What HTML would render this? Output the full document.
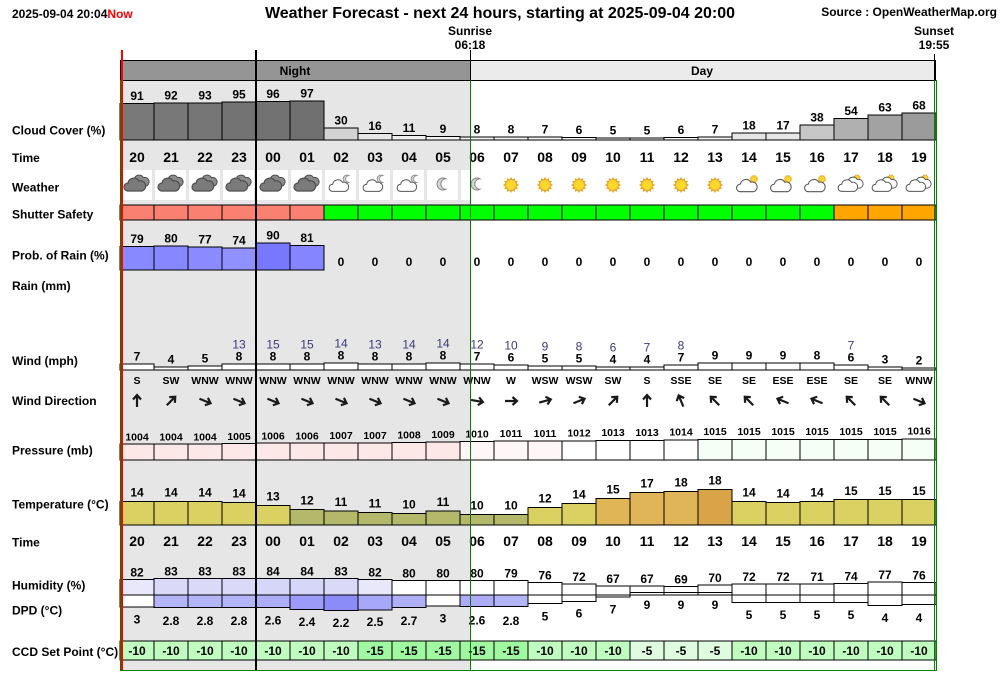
<!DOCTYPE html>
<html><head><meta charset="utf-8">
<style>
html,body{margin:0;padding:0;background:#fff;}
svg{display:block;}
text{font-family:"Liberation Sans",Arial,sans-serif;}
.b{font-weight:bold;font-size:12px;}
.lbl{font-weight:bold;font-size:12px;}
.t{font-weight:bold;font-size:14px;text-anchor:middle;}
.n{font-weight:bold;font-size:12px;text-anchor:middle;}
.g{font-size:12px;text-anchor:middle;fill:#3a3a78;}
.d{font-weight:bold;font-size:10.5px;text-anchor:middle;}
.p{font-weight:bold;font-size:10.5px;text-anchor:middle;}
</style></head><body>
<svg width="1000" height="680" viewBox="0 0 1000 680" xmlns="http://www.w3.org/2000/svg" xmlns:xlink="http://www.w3.org/1999/xlink">
<defs>
<path id="cl" d="M-7,6 A4,4 0 0 1 -7,-2 A6,6 0 0 1 4,-4 A5,5 0 0 1 7,6 Z"/>
<g id="sun"><polygon points="8,0 5.6,1.5 6.93,4 4.1,4.1 4,6.93 1.5,5.6 0,8 -1.5,5.6 -4,6.93 -4.1,4.1 -6.93,4 -5.6,1.5 -8,0 -5.6,-1.5 -6.93,-4 -4.1,-4.1 -4,-6.93 -1.5,-5.6 0,-8 1.5,-5.6 4,-6.93 4.1,-4.1 6.93,-4 5.6,-1.5" fill="#eba42c"/><circle r="5.3" fill="#fbd92b" stroke="#e9a630" stroke-width="0.6"/></g>
<path id="moonp" d="M3,-5.2 A6,6 0 1 0 3,5.2 A5,5 0 0 1 3,-5.2 Z"/>
<g id="ov"><use href="#cl" transform="translate(3,-3) scale(0.85)" fill="#8c8c8c" stroke="#4e4e4e" stroke-width="1.2"/><use href="#cl" transform="translate(-2,1)" fill="#7b7b7b" stroke="#4e4e4e" stroke-width="1.2"/></g>
<g id="cm"><use href="#moonp" transform="translate(6,-5) scale(0.65)" fill="#d4d4d4" stroke="#888" stroke-width="1.2"/><use href="#cl" transform="translate(-2,2) scale(0.9)" fill="#fff" stroke="#555" stroke-width="1.1"/></g>
<g id="mo"><use href="#moonp" fill="#d4d4d4" stroke="#888" stroke-width="1"/></g>
<g id="cs"><use href="#sun" transform="translate(5,-5) scale(0.55)"/><use href="#cl" transform="translate(-2,2) scale(0.95)" fill="#fff" stroke="#555" stroke-width="1.1"/></g>
<g id="dcs"><use href="#sun" transform="translate(6,-6) scale(0.5)"/><use href="#cl" transform="translate(3,-1) scale(0.85)" fill="#fff" stroke="#555" stroke-width="1.1"/><use href="#cl" transform="translate(-3,2) scale(0.9)" fill="#fff" stroke="#555" stroke-width="1.1"/></g>
<path id="ar" d="M0,6 V-5 M-4,-1.5 L0,-6 L4,-1.5" fill="none" stroke="#1a1a1a" stroke-width="2.2"/>
</defs>

<rect x="0" y="0" width="1000" height="680" fill="#fff"/>

<!-- header -->
<text x="12" y="18" class="b">2025-09-04 20:04<tspan fill="#ff0000">Now</tspan></text>
<text x="500" y="18" style="font-weight:bold;font-size:16px" text-anchor="middle">Weather Forecast - next 24 hours, starting at 2025-09-04 20:00</text>
<text x="997" y="16" class="b" text-anchor="end">Source : OpenWeatherMap.org</text>
<text x="470" y="35" class="n">Sunrise</text><text x="470" y="49" class="n">06:18</text>
<text x="934" y="35" class="n">Sunset</text><text x="934" y="49" class="n">19:55</text>

<!-- night background -->
<rect x="120" y="80" width="350" height="590" fill="#e6e6e6"/>

<!-- band -->
<g shape-rendering="crispEdges">
<rect x="120" y="60" width="350" height="20" fill="#959595"/>
<rect x="470" y="60" width="464" height="20" fill="#ebebeb"/>
<rect x="934" y="60" width="2" height="20" fill="#959595"/>
<rect x="120.5" y="60.5" width="815" height="20" fill="none" stroke="#000"/>
</g>
<text x="295" y="75" class="n">Night</text>
<text x="702" y="75" class="n">Day</text>

<!-- left labels -->
<g class="lbl">
<text x="12" y="134.5">Cloud Cover (%)</text>
<text x="12" y="162">Time</text>
<text x="12" y="191.5">Weather</text>
<text x="12" y="218.5">Shutter Safety</text>
<text x="12" y="259.5">Prob. of Rain (%)</text>
<text x="12" y="290">Rain (mm)</text>
<text x="12" y="365">Wind (mph)</text>
<text x="12" y="405">Wind Direction</text>
<text x="12" y="454.5">Pressure (mb)</text>
<text x="12" y="508.5">Temperature (°C)</text>
<text x="12" y="546.5">Time</text>
<text x="12" y="589.5">Humidity (%)</text>
<text x="12" y="614.5">DPD (°C)</text>
<text x="12" y="656">CCD Set Point (°C)</text>
</g>

<!-- cloud cover -->
<g stroke="#000" stroke-width="1" shape-rendering="crispEdges">
<rect x="120" y="103.6" width="34" height="36.4" fill="#797979"/>
<rect x="154" y="103.2" width="34" height="36.8" fill="#787878"/>
<rect x="188" y="102.8" width="34" height="37.2" fill="#767676"/>
<rect x="222" y="102" width="34" height="38" fill="#737373"/>
<rect x="256" y="101.6" width="34" height="38.4" fill="#727272"/>
<rect x="290" y="101.2" width="34" height="38.8" fill="#707070"/>
<rect x="324" y="128" width="34" height="12" fill="#d3d3d3"/>
<rect x="358" y="133.6" width="34" height="6.4" fill="#e7e7e7"/>
<rect x="392" y="135.6" width="34" height="4.4" fill="#efefef"/>
<rect x="426" y="136.4" width="34" height="3.6" fill="#f2f2f2"/>
<rect x="460" y="136.8" width="34" height="3.2" fill="#f3f3f3"/>
<rect x="494" y="136.8" width="34" height="3.2" fill="#f3f3f3"/>
<rect x="528" y="137.2" width="34" height="2.8" fill="#f5f5f5"/>
<rect x="562" y="137.6" width="34" height="2.4" fill="#f6f6f6"/>
<rect x="596" y="138" width="34" height="2" fill="#f8f8f8"/>
<rect x="630" y="138" width="34" height="2" fill="#f8f8f8"/>
<rect x="664" y="137.6" width="34" height="2.4" fill="#f6f6f6"/>
<rect x="698" y="137.2" width="34" height="2.8" fill="#f5f5f5"/>
<rect x="732" y="132.8" width="34" height="7.2" fill="#e5e5e5"/>
<rect x="766" y="133.2" width="34" height="6.8" fill="#e6e6e6"/>
<rect x="800" y="124.8" width="34" height="15.2" fill="#c7c7c7"/>
<rect x="834" y="118.4" width="34" height="21.6" fill="#b0b0b0"/>
<rect x="868" y="114.8" width="34" height="25.2" fill="#a2a2a2"/>
<rect x="902" y="112.8" width="34" height="27.2" fill="#9b9b9b"/>
</g>
<g class="n">
<text x="137" y="100.1">91</text><text x="171" y="99.7">92</text><text x="205" y="99.3">93</text><text x="239" y="98.5">95</text>
<text x="273" y="98.1">96</text><text x="307" y="97.7">97</text><text x="341" y="124.5">30</text><text x="375" y="130.1">16</text>
<text x="409" y="132.1">11</text><text x="443" y="132.9">9</text><text x="477" y="133.3">8</text><text x="511" y="133.3">8</text>
<text x="545" y="133.7">7</text><text x="579" y="134.1">6</text><text x="613" y="134.5">5</text><text x="647" y="134.5">5</text>
<text x="681" y="134.1">6</text><text x="715" y="133.7">7</text><text x="749" y="129.3">18</text><text x="783" y="129.7">17</text>
<text x="817" y="121.3">38</text><text x="851" y="114.9">54</text><text x="885" y="111.3">63</text><text x="919" y="109.3">68</text>
</g>

<!-- time row 1 -->
<g class="t">
<text x="137" y="162">20</text><text x="171" y="162">21</text><text x="205" y="162">22</text><text x="239" y="162">23</text>
<text x="273" y="162">00</text><text x="307" y="162">01</text><text x="341" y="162">02</text><text x="375" y="162">03</text>
<text x="409" y="162">04</text><text x="443" y="162">05</text><text x="477" y="162">06</text><text x="511" y="162">07</text>
<text x="545" y="162">08</text><text x="579" y="162">09</text><text x="613" y="162">10</text><text x="647" y="162">11</text>
<text x="681" y="162">12</text><text x="715" y="162">13</text><text x="749" y="162">14</text><text x="783" y="162">15</text>
<text x="817" y="162">16</text><text x="851" y="162">17</text><text x="885" y="162">18</text><text x="919" y="162">19</text>
</g>

<!-- weather cells -->
<g fill="#fff" shape-rendering="crispEdges">
<rect x="121" y="170" width="31" height="30"/><rect x="155" y="170" width="31" height="30"/><rect x="189" y="170" width="31" height="30"/>
<rect x="223" y="170" width="31" height="30"/><rect x="257" y="170" width="31" height="30"/><rect x="291" y="170" width="31" height="30"/>
<rect x="325" y="170" width="31" height="30"/><rect x="359" y="170" width="31" height="30"/><rect x="393" y="170" width="31" height="30"/>
<rect x="427" y="170" width="31" height="30"/><rect x="461" y="170" width="31" height="30"/>
</g>
<use href="#ov" x="137" y="184"/><use href="#ov" x="171" y="184"/><use href="#ov" x="205" y="184"/>
<use href="#ov" x="239" y="184"/><use href="#ov" x="273" y="184"/><use href="#ov" x="307" y="184"/>
<use href="#cm" x="341" y="184"/><use href="#cm" x="375" y="184"/><use href="#cm" x="409" y="184"/>
<use href="#mo" x="443" y="184"/><use href="#mo" x="477" y="184"/>
<use href="#sun" x="511" y="185"/><use href="#sun" x="545" y="185"/><use href="#sun" x="579" y="185"/>
<use href="#sun" x="613" y="185"/><use href="#sun" x="647" y="185"/><use href="#sun" x="681" y="185"/><use href="#sun" x="715" y="185"/>
<use href="#cs" x="749" y="184"/><use href="#cs" x="783" y="184"/><use href="#cs" x="817" y="184"/>
<use href="#dcs" x="851" y="184"/><use href="#dcs" x="885" y="184"/><use href="#dcs" x="919" y="184"/>

<!-- shutter safety -->
<g stroke="#000" shape-rendering="crispEdges">
<rect x="120" y="205" width="34" height="15" fill="#fa8072"/><rect x="154" y="205" width="34" height="15" fill="#fa8072"/>
<rect x="188" y="205" width="34" height="15" fill="#fa8072"/><rect x="222" y="205" width="34" height="15" fill="#fa8072"/>
<rect x="256" y="205" width="34" height="15" fill="#fa8072"/><rect x="290" y="205" width="34" height="15" fill="#fa8072"/>
<rect x="324" y="205" width="34" height="15" fill="#00ff00"/><rect x="358" y="205" width="34" height="15" fill="#00ff00"/>
<rect x="392" y="205" width="34" height="15" fill="#00ff00"/><rect x="426" y="205" width="34" height="15" fill="#00ff00"/>
<rect x="460" y="205" width="34" height="15" fill="#00ff00"/><rect x="494" y="205" width="34" height="15" fill="#00ff00"/>
<rect x="528" y="205" width="34" height="15" fill="#00ff00"/><rect x="562" y="205" width="34" height="15" fill="#00ff00"/>
<rect x="596" y="205" width="34" height="15" fill="#00ff00"/><rect x="630" y="205" width="34" height="15" fill="#00ff00"/>
<rect x="664" y="205" width="34" height="15" fill="#00ff00"/><rect x="698" y="205" width="34" height="15" fill="#00ff00"/>
<rect x="732" y="205" width="34" height="15" fill="#00ff00"/><rect x="766" y="205" width="34" height="15" fill="#00ff00"/>
<rect x="800" y="205" width="34" height="15" fill="#00ff00"/><rect x="834" y="205" width="34" height="15" fill="#ffa500"/>
<rect x="868" y="205" width="34" height="15" fill="#ffa500"/><rect x="902" y="205" width="34" height="15" fill="#ffa500"/>
</g>

<!-- prob of rain -->
<g stroke="#000" shape-rendering="crispEdges">
<rect x="120" y="246.3" width="34" height="23.7" fill="#8989ff"/>
<rect x="154" y="246" width="34" height="24" fill="#8787ff"/>
<rect x="188" y="246.9" width="34" height="23.1" fill="#8b8bff"/>
<rect x="222" y="247.8" width="34" height="22.2" fill="#9090ff"/>
<rect x="256" y="243" width="34" height="27" fill="#7878ff"/>
<rect x="290" y="245.7" width="34" height="24.3" fill="#8585ff"/>
</g>
<g class="n">
<text x="137" y="242.8">79</text><text x="171" y="242.5">80</text><text x="205" y="243.4">77</text><text x="239" y="244.3">74</text>
<text x="273" y="239.5">90</text><text x="307" y="242.2">81</text>
<text x="341" y="266">0</text><text x="375" y="266">0</text><text x="409" y="266">0</text><text x="443" y="266">0</text>
<text x="477" y="266">0</text><text x="511" y="266">0</text><text x="545" y="266">0</text><text x="579" y="266">0</text>
<text x="613" y="266">0</text><text x="647" y="266">0</text><text x="681" y="266">0</text><text x="715" y="266">0</text>
<text x="749" y="266">0</text><text x="783" y="266">0</text><text x="817" y="266">0</text><text x="851" y="266">0</text>
<text x="885" y="266">0</text><text x="919" y="266">0</text>
</g>

<!-- wind bars -->
<g stroke="#000" fill="#fff" shape-rendering="crispEdges">
<rect x="120" y="364" width="34" height="6"/><rect x="154" y="367" width="34" height="3"/>
<rect x="188" y="366" width="34" height="4"/><rect x="222" y="364" width="34" height="6"/>
<rect x="256" y="364" width="34" height="6"/><rect x="290" y="364" width="34" height="6"/>
<rect x="324" y="363" width="34" height="7"/><rect x="358" y="364" width="34" height="6"/>
<rect x="392" y="364" width="34" height="6"/><rect x="426" y="363" width="34" height="7"/>
<rect x="460" y="364" width="34" height="6"/><rect x="494" y="365" width="34" height="5"/>
<rect x="528" y="366" width="34" height="4"/><rect x="562" y="366" width="34" height="4"/>
<rect x="596" y="367" width="34" height="3"/><rect x="630" y="367" width="34" height="3"/>
<rect x="664" y="365" width="34" height="5"/><rect x="698" y="363" width="34" height="7"/>
<rect x="732" y="363" width="34" height="7"/><rect x="766" y="363" width="34" height="7"/>
<rect x="800" y="363" width="34" height="7"/><rect x="834" y="365" width="34" height="5"/>
<rect x="868" y="367" width="34" height="3"/><rect x="902" y="368" width="34" height="2"/>
</g>
<g class="n">
<text x="137" y="360.7">7</text><text x="171" y="363.7">4</text><text x="205" y="362.7">5</text><text x="239" y="360.7">8</text>
<text x="273" y="360.7">8</text><text x="307" y="360.7">8</text><text x="341" y="359.7">8</text><text x="375" y="360.7">8</text>
<text x="409" y="360.7">8</text><text x="443" y="359.7">8</text><text x="477" y="360.7">7</text><text x="511" y="361.7">6</text>
<text x="545" y="362.7">5</text><text x="579" y="362.7">5</text><text x="613" y="363.7">4</text><text x="647" y="363.7">4</text>
<text x="681" y="361.7">7</text><text x="715" y="359.7">9</text><text x="749" y="359.7">9</text><text x="783" y="359.7">9</text>
<text x="817" y="359.7">8</text><text x="851" y="361.7">6</text><text x="885" y="363.7">3</text><text x="919" y="364.7">2</text>
</g>
<g class="g">
<text x="239" y="348.7">13</text><text x="273" y="348.7">15</text><text x="307" y="348.7">15</text><text x="341" y="347.7">14</text>
<text x="375" y="348.7">13</text><text x="409" y="348.7">14</text><text x="443" y="347.7">14</text><text x="477" y="348.7">12</text>
<text x="511" y="349.7">10</text><text x="545" y="350.7">9</text><text x="579" y="350.7">8</text><text x="613" y="351.7">6</text>
<text x="647" y="351.7">7</text><text x="681" y="349.7">8</text><text x="851" y="349.7">7</text>
</g>

<!-- wind direction -->
<g class="d">
<text x="137" y="384">S</text><text x="171" y="384">SW</text><text x="205" y="384">WNW</text><text x="239" y="384">WNW</text>
<text x="273" y="384">WNW</text><text x="307" y="384">WNW</text><text x="341" y="384">WNW</text><text x="375" y="384">WNW</text>
<text x="409" y="384">WNW</text><text x="443" y="384">WNW</text><text x="477" y="384">WNW</text><text x="511" y="384">W</text>
<text x="545" y="384">WSW</text><text x="579" y="384">WSW</text><text x="613" y="384">SW</text><text x="647" y="384">S</text>
<text x="681" y="384">SSE</text><text x="715" y="384">SE</text><text x="749" y="384">SE</text><text x="783" y="384">ESE</text>
<text x="817" y="384">ESE</text><text x="851" y="384">SE</text><text x="885" y="384">SE</text><text x="919" y="384">WNW</text>
</g>
<use href="#ar" transform="translate(137,401) rotate(0)"/>
<use href="#ar" transform="translate(171,401) rotate(45)"/>
<use href="#ar" transform="translate(205,401) rotate(112.5)"/>
<use href="#ar" transform="translate(239,401) rotate(112.5)"/>
<use href="#ar" transform="translate(273,401) rotate(112.5)"/>
<use href="#ar" transform="translate(307,401) rotate(112.5)"/>
<use href="#ar" transform="translate(341,401) rotate(112.5)"/>
<use href="#ar" transform="translate(375,401) rotate(112.5)"/>
<use href="#ar" transform="translate(409,401) rotate(112.5)"/>
<use href="#ar" transform="translate(443,401) rotate(112.5)"/>
<use href="#ar" transform="translate(477,401) rotate(100)"/>
<use href="#ar" transform="translate(511,401) rotate(90)"/>
<use href="#ar" transform="translate(545,401) rotate(75)"/>
<use href="#ar" transform="translate(579,401) rotate(67.5)"/>
<use href="#ar" transform="translate(613,401) rotate(45)"/>
<use href="#ar" transform="translate(647,401) rotate(0)"/>
<use href="#ar" transform="translate(681,401) rotate(-22.5)"/>
<use href="#ar" transform="translate(715,401) rotate(-45)"/>
<use href="#ar" transform="translate(749,401) rotate(-45)"/>
<use href="#ar" transform="translate(783,401) rotate(-67.5)"/>
<use href="#ar" transform="translate(817,401) rotate(-67.5)"/>
<use href="#ar" transform="translate(851,401) rotate(-45)"/>
<use href="#ar" transform="translate(885,401) rotate(-45)"/>
<use href="#ar" transform="translate(919,401) rotate(112.5)"/>

<!-- pressure -->
<g stroke="#000" shape-rendering="crispEdges">
<rect x="120" y="444" width="34" height="16" fill="#fde8e8"/>
<rect x="154" y="444" width="34" height="16" fill="#fde8e8"/>
<rect x="188" y="444" width="34" height="16" fill="#fde8e8"/>
<rect x="222" y="443.6" width="34" height="16.4" fill="#fde8e8"/>
<rect x="256" y="443.2" width="34" height="16.8" fill="#fde8e8"/>
<rect x="290" y="443.2" width="34" height="16.8" fill="#fde8e8"/>
<rect x="324" y="442.8" width="34" height="17.2" fill="#fde8e8"/>
<rect x="358" y="442.8" width="34" height="17.2" fill="#fde8e8"/>
<rect x="392" y="442.4" width="34" height="17.6" fill="#fde8e8"/>
<rect x="426" y="442" width="34" height="18" fill="#fde8e8"/>
<rect x="460" y="441.6" width="34" height="18.4" fill="#fff7f7"/>
<rect x="494" y="441.2" width="34" height="18.8" fill="#fff7f7"/>
<rect x="528" y="441.2" width="34" height="18.8" fill="#fff7f7"/>
<rect x="562" y="440.8" width="34" height="19.2" fill="#ffffff"/>
<rect x="596" y="440.4" width="34" height="19.6" fill="#ffffff"/>
<rect x="630" y="440.4" width="34" height="19.6" fill="#ffffff"/>
<rect x="664" y="440" width="34" height="20" fill="#ffffff"/>
<rect x="698" y="439.6" width="34" height="20.4" fill="#f5fff5"/>
<rect x="732" y="439.6" width="34" height="20.4" fill="#f5fff5"/>
<rect x="766" y="439.6" width="34" height="20.4" fill="#f5fff5"/>
<rect x="800" y="439.6" width="34" height="20.4" fill="#f5fff5"/>
<rect x="834" y="439.6" width="34" height="20.4" fill="#f5fff5"/>
<rect x="868" y="439.6" width="34" height="20.4" fill="#f5fff5"/>
<rect x="902" y="439.2" width="34" height="20.8" fill="#f5fff5"/>
</g>
<g class="p">
<text x="137" y="440.7">1004</text><text x="171" y="440.7">1004</text><text x="205" y="440.7">1004</text><text x="239" y="440.2">1005</text>
<text x="273" y="439.6">1006</text><text x="307" y="439.6">1006</text><text x="341" y="439.1">1007</text><text x="375" y="439.1">1007</text>
<text x="409" y="438.6">1008</text><text x="443" y="438.1">1009</text><text x="477" y="437.5">1010</text><text x="511" y="437">1011</text>
<text x="545" y="437">1011</text><text x="579" y="436.5">1012</text><text x="613" y="435.9">1013</text><text x="647" y="435.9">1013</text>
<text x="681" y="435.4">1014</text><text x="715" y="434.9">1015</text><text x="749" y="434.9">1015</text><text x="783" y="434.9">1015</text>
<text x="817" y="434.9">1015</text><text x="851" y="434.9">1015</text><text x="885" y="434.9">1015</text><text x="919" y="434.3">1016</text>
</g>

<!-- temperature -->
<g stroke="#000" shape-rendering="crispEdges">
<rect x="120" y="501.3" width="34" height="23.7" fill="#dbd062"/>
<rect x="154" y="501.3" width="34" height="23.7" fill="#dbd062"/>
<rect x="188" y="501.3" width="34" height="23.7" fill="#dbd062"/>
<rect x="222" y="502.3" width="34" height="22.7" fill="#dbd062"/>
<rect x="256" y="505.3" width="34" height="19.7" fill="#dbd062"/>
<rect x="290" y="509.3" width="34" height="15.7" fill="#b3b86b"/>
<rect x="324" y="511" width="34" height="14" fill="#b3b86b"/>
<rect x="358" y="512.3" width="34" height="12.7" fill="#b3b86b"/>
<rect x="392" y="513.3" width="34" height="11.7" fill="#b3b86b"/>
<rect x="426" y="511" width="34" height="14" fill="#b3b86b"/>
<rect x="460" y="514.3" width="34" height="10.7" fill="#b3b86b"/>
<rect x="494" y="514.3" width="34" height="10.7" fill="#b3b86b"/>
<rect x="528" y="507.3" width="34" height="17.7" fill="#dbd062"/>
<rect x="562" y="503.3" width="34" height="21.7" fill="#dbd062"/>
<rect x="596" y="498.3" width="34" height="26.7" fill="#dfb556"/>
<rect x="630" y="492.3" width="34" height="32.7" fill="#e0b458"/>
<rect x="664" y="491.3" width="34" height="33.7" fill="#e0b458"/>
<rect x="698" y="489.3" width="34" height="35.7" fill="#d9a448"/>
<rect x="732" y="501.3" width="34" height="23.7" fill="#dbd062"/>
<rect x="766" y="502.3" width="34" height="22.7" fill="#dbd062"/>
<rect x="800" y="501.3" width="34" height="23.7" fill="#dbd062"/>
<rect x="834" y="499.7" width="34" height="25.3" fill="#dbd062"/>
<rect x="868" y="499.7" width="34" height="25.3" fill="#dbd062"/>
<rect x="902" y="499.7" width="34" height="25.3" fill="#dbd062"/>
</g>
<g class="n">
<text x="137" y="496.5">14</text><text x="171" y="496.5">14</text><text x="205" y="496.5">14</text><text x="239" y="497.5">14</text>
<text x="273" y="500.5">13</text><text x="307" y="504.5">12</text><text x="341" y="506.2">11</text><text x="375" y="507.5">11</text>
<text x="409" y="508.5">10</text><text x="443" y="506.2">11</text><text x="477" y="509.5">10</text><text x="511" y="509.5">10</text>
<text x="545" y="502.5">12</text><text x="579" y="498.5">14</text><text x="613" y="493.5">15</text><text x="647" y="487.5">17</text>
<text x="681" y="486.5">18</text><text x="715" y="484.5">18</text><text x="749" y="496.5">14</text><text x="783" y="497.5">14</text>
<text x="817" y="496.5">14</text><text x="851" y="494.9">15</text><text x="885" y="494.9">15</text><text x="919" y="494.9">15</text>
</g>

<!-- time row 2 -->
<g class="t">
<text x="137" y="546">20</text><text x="171" y="546">21</text><text x="205" y="546">22</text><text x="239" y="546">23</text>
<text x="273" y="546">00</text><text x="307" y="546">01</text><text x="341" y="546">02</text><text x="375" y="546">03</text>
<text x="409" y="546">04</text><text x="443" y="546">05</text><text x="477" y="546">06</text><text x="511" y="546">07</text>
<text x="545" y="546">08</text><text x="579" y="546">09</text><text x="613" y="546">10</text><text x="647" y="546">11</text>
<text x="681" y="546">12</text><text x="715" y="546">13</text><text x="749" y="546">14</text><text x="783" y="546">15</text>
<text x="817" y="546">16</text><text x="851" y="546">17</text><text x="885" y="546">18</text><text x="919" y="546">19</text>
</g>

<!-- humidity -->
<g stroke="#000" shape-rendering="crispEdges">
<rect x="120" y="579.3" width="34" height="15.7" fill="#e8e8fa"/>
<rect x="154" y="578.3" width="34" height="16.7" fill="#dadaf8"/>
<rect x="188" y="578.3" width="34" height="16.7" fill="#dadaf8"/>
<rect x="222" y="578.3" width="34" height="16.7" fill="#dadaf8"/>
<rect x="256" y="578.3" width="34" height="16.7" fill="#d6d6f8"/>
<rect x="290" y="578.3" width="34" height="16.7" fill="#d6d6f8"/>
<rect x="324" y="578.3" width="34" height="16.7" fill="#dadaf8"/>
<rect x="358" y="579.3" width="34" height="15.7" fill="#e8e8fa"/>
<rect x="392" y="580.3" width="34" height="14.7" fill="#fff"/>
<rect x="426" y="580.3" width="34" height="14.7" fill="#fff"/>
<rect x="460" y="580.3" width="34" height="14.7" fill="#fff"/>
<rect x="494" y="580.3" width="34" height="14.7" fill="#fff"/>
<rect x="528" y="582.3" width="34" height="12.7" fill="#fff"/>
<rect x="562" y="584" width="34" height="11" fill="#fff"/>
<rect x="596" y="586" width="34" height="9" fill="#fff"/>
<rect x="630" y="586" width="34" height="9" fill="#fff"/>
<rect x="664" y="586.7" width="34" height="8.3" fill="#fff"/>
<rect x="698" y="585" width="34" height="10" fill="#fff"/>
<rect x="732" y="584" width="34" height="11" fill="#fff"/>
<rect x="766" y="584" width="34" height="11" fill="#fff"/>
<rect x="800" y="584" width="34" height="11" fill="#fff"/>
<rect x="834" y="583.3" width="34" height="11.7" fill="#fff"/>
<rect x="868" y="582" width="34" height="13" fill="#fff"/>
<rect x="902" y="582.3" width="34" height="12.7" fill="#fff"/>
<!-- DPD -->
<rect x="120" y="595" width="34" height="12" fill="#fff"/>
<rect x="154" y="595" width="34" height="12.7" fill="#b4b4f8"/>
<rect x="188" y="595" width="34" height="12.7" fill="#b4b4f8"/>
<rect x="222" y="595" width="34" height="12.7" fill="#b4b4f8"/>
<rect x="256" y="595" width="34" height="12.7" fill="#acacf8"/>
<rect x="290" y="595" width="34" height="14.3" fill="#9c9cf8"/>
<rect x="324" y="595" width="34" height="15.7" fill="#8c8cf8"/>
<rect x="358" y="595" width="34" height="15" fill="#a8a8f8"/>
<rect x="392" y="595" width="34" height="12.7" fill="#b0b0f8"/>
<rect x="426" y="595" width="34" height="11" fill="#fff"/>
<rect x="460" y="595" width="34" height="11.7" fill="#acacf8"/>
<rect x="494" y="595" width="34" height="11.7" fill="#b4b4f8"/>
<rect x="528" y="595" width="34" height="8.3" fill="#fff"/>
<rect x="562" y="595" width="34" height="6.3" fill="#fff"/>
<rect x="596" y="595" width="34" height="2" fill="#fff"/>
<rect x="630" y="592.3" width="34" height="2.7" fill="#fff"/>
<rect x="664" y="592.3" width="34" height="2.7" fill="#fff"/>
<rect x="698" y="592.3" width="34" height="2.7" fill="#fff"/>
<rect x="732" y="595" width="34" height="7.3" fill="#fff"/>
<rect x="766" y="595" width="34" height="7.3" fill="#fff"/>
<rect x="800" y="595" width="34" height="7.3" fill="#fff"/>
<rect x="834" y="595" width="34" height="7.3" fill="#fff"/>
<rect x="868" y="595" width="34" height="10.7" fill="#fff"/>
<rect x="902" y="595" width="34" height="9.3" fill="#fff"/>
</g>
<g class="n">
<text x="137" y="576.3">82</text><text x="171" y="575.3">83</text><text x="205" y="575.3">83</text><text x="239" y="575.3">83</text>
<text x="273" y="575.3">84</text><text x="307" y="575.3">84</text><text x="341" y="575.3">83</text><text x="375" y="576.3">82</text>
<text x="409" y="577.3">80</text><text x="443" y="577.3">80</text><text x="477" y="577.3">80</text><text x="511" y="577.3">79</text>
<text x="545" y="579.3">76</text><text x="579" y="581">72</text><text x="613" y="583">67</text><text x="647" y="583">67</text>
<text x="681" y="583.7">69</text><text x="715" y="582">70</text><text x="749" y="581">72</text><text x="783" y="581">72</text>
<text x="817" y="581">71</text><text x="851" y="580.3">74</text><text x="885" y="579">77</text><text x="919" y="579.3">76</text>
</g>
<g class="n">
<text x="137" y="623.6">3</text><text x="171" y="625">2.8</text><text x="205" y="625">2.8</text><text x="239" y="625">2.8</text>
<text x="273" y="624.3">2.6</text><text x="307" y="626">2.4</text><text x="341" y="627">2.2</text><text x="375" y="626">2.5</text>
<text x="409" y="625">2.7</text><text x="443" y="622.6">3</text><text x="477" y="624.3">2.6</text><text x="511" y="625">2.8</text>
<text x="545" y="620.3">5</text><text x="579" y="617.6">6</text><text x="613" y="613.3">7</text><text x="647" y="609">9</text>
<text x="681" y="609">9</text><text x="715" y="609">9</text><text x="749" y="619">5</text><text x="783" y="619">5</text>
<text x="817" y="619">5</text><text x="851" y="619">5</text><text x="885" y="622">4</text><text x="919" y="622">4</text>
</g>

<!-- CCD set point -->
<g stroke="#000" shape-rendering="crispEdges">
<rect x="120" y="641" width="34" height="19" fill="#c0fcc0"/><rect x="154" y="641" width="34" height="19" fill="#c0fcc0"/>
<rect x="188" y="641" width="34" height="19" fill="#c0fcc0"/><rect x="222" y="641" width="34" height="19" fill="#c0fcc0"/>
<rect x="256" y="641" width="34" height="19" fill="#c0fcc0"/><rect x="290" y="641" width="34" height="19" fill="#c0fcc0"/>
<rect x="324" y="641" width="34" height="19" fill="#c0fcc0"/><rect x="358" y="641" width="34" height="19" fill="#a0f8a0"/>
<rect x="392" y="641" width="34" height="19" fill="#a0f8a0"/><rect x="426" y="641" width="34" height="19" fill="#a0f8a0"/>
<rect x="460" y="641" width="34" height="19" fill="#a0f8a0"/><rect x="494" y="641" width="34" height="19" fill="#a0f8a0"/>
<rect x="528" y="641" width="34" height="19" fill="#c0fcc0"/><rect x="562" y="641" width="34" height="19" fill="#c0fcc0"/>
<rect x="596" y="641" width="34" height="19" fill="#c0fcc0"/><rect x="630" y="641" width="34" height="19" fill="#e0fce0"/>
<rect x="664" y="641" width="34" height="19" fill="#e0fce0"/><rect x="698" y="641" width="34" height="19" fill="#e0fce0"/>
<rect x="732" y="641" width="34" height="19" fill="#c0fcc0"/><rect x="766" y="641" width="34" height="19" fill="#c0fcc0"/>
<rect x="800" y="641" width="34" height="19" fill="#c0fcc0"/><rect x="834" y="641" width="34" height="19" fill="#c0fcc0"/>
<rect x="868" y="641" width="34" height="19" fill="#c0fcc0"/><rect x="902" y="641" width="34" height="19" fill="#c0fcc0"/>
</g>
<g class="n">
<text x="137" y="655">-10</text><text x="171" y="655">-10</text><text x="205" y="655">-10</text><text x="239" y="655">-10</text>
<text x="273" y="655">-10</text><text x="307" y="655">-10</text><text x="341" y="655">-10</text><text x="375" y="655">-15</text>
<text x="409" y="655">-15</text><text x="443" y="655">-15</text><text x="477" y="655">-15</text><text x="511" y="655">-15</text>
<text x="545" y="655">-10</text><text x="579" y="655">-10</text><text x="613" y="655">-10</text><text x="647" y="655">-5</text>
<text x="681" y="655">-5</text><text x="715" y="655">-5</text><text x="749" y="655">-10</text><text x="783" y="655">-10</text>
<text x="817" y="655">-10</text><text x="851" y="655">-10</text><text x="885" y="655">-10</text><text x="919" y="655">-10</text>
</g>

<!-- vertical lines / frame -->
<g shape-rendering="crispEdges">
<rect x="120" y="80" width="1" height="591" fill="#008000"/>
<rect x="121" y="50" width="2" height="621" fill="#ff0000"/>
<rect x="255" y="50" width="2" height="621" fill="#000"/>
<rect x="470" y="50" width="1" height="30" fill="#000"/>
<rect x="470" y="80" width="1" height="591" fill="#008000"/>
<rect x="934" y="54" width="1" height="26" fill="#000"/>
<rect x="934" y="80" width="1" height="591" fill="#008000"/>
<rect x="936" y="80" width="1" height="591" fill="#008000"/>
<rect x="120" y="670" width="817" height="1" fill="#008000"/>
</g>
</svg>
</body></html>
